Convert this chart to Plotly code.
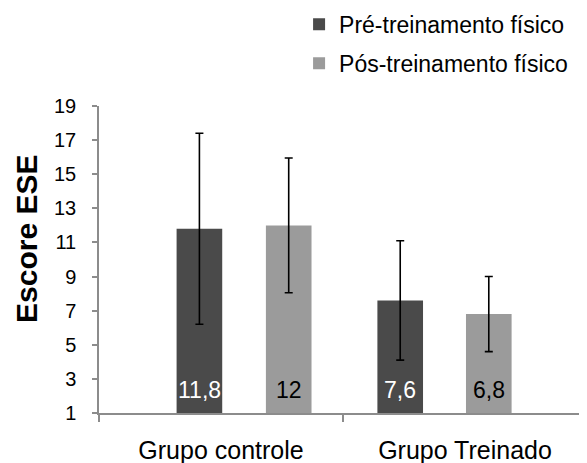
import plotly.graph_objects as go

categories = ["Grupo controle", "Grupo Treinado"]
series_names = ["Pré-treinamento físico", "Pós-treinamento físico"]
pre_values = [11.8, 7.6]
pos_values = [12.0, 6.8]
pre_errors = [5.6, 3.5]
pos_errors = [3.95, 2.2]
y_ticks = [1, 3, 5, 7, 9, 11, 13, 15, 17, 19]
y_min, y_max = 1, 19

FONT = "Liberation Sans, Arial, sans-serif"
DARK = "#4a4a4a"
LIGHT = "#9b9b9b"
BAR_W = 0.187

# the page body has an 8px default margin, so the figure is drawn 8px smaller
FIG_W, FIG_H = 579, 455
M_L, M_R, M_T, M_B = 91, 0, 98, 50
PX_PER_CAT = (FIG_W - M_L - M_R) / 2.0


def fmt(v):
    return f"{v:g}".replace(".", ",")


fig = go.Figure()


def add_series(values, errors, name, color, text_color, offsets, group):
    fig.add_trace(go.Bar(
        x=categories,
        y=[v - y_min for v in values],
        base=[y_min] * len(values),
        name=name,
        marker=dict(color=color, line=dict(width=0)),
        width=[BAR_W] * len(values), offset=offsets,
        error_y=dict(type="data", array=errors, color="black", thickness=1.6, width=4),
        legendgroup=group,
        hoverinfo="skip",
    ))
    for cat, v, off in zip(categories, values, offsets):
        fig.add_annotation(
            x=cat, y=y_min, xref="x", yref="y",
            xshift=(off + BAR_W / 2) * PX_PER_CAT, yshift=8,
            xanchor="center", yanchor="bottom", showarrow=False,
            text=fmt(v), font=dict(family=FONT, size=23, color=text_color),
        )


add_series(pre_values, pre_errors, series_names[0], DARK, "white", [-0.182, -0.359], "a")
add_series(pos_values, pos_errors, series_names[1], LIGHT, "black", [0.184, 0.004], "b")

fig.add_annotation(
    text="<b>Escore ESE</b>", textangle=-90,
    xref="paper", yref="paper", x=-0.1475, y=0.567,
    xanchor="center", yanchor="middle", showarrow=False,
    font=dict(family=FONT, size=30, color="black"),
)

fig.update_layout(
    width=FIG_W, height=FIG_H,
    margin=dict(l=M_L, r=M_R, t=M_T, b=M_B, autoexpand=False),
    paper_bgcolor="white", plot_bgcolor="white",
    barmode="overlay",
    font=dict(family=FONT, color="black"),
    showlegend=True,
    legend=dict(
        x=0.41, xanchor="left", y=1.336, yanchor="top",
        font=dict(family=FONT, size=23, color="black"),
        tracegroupgap=6, bgcolor="rgba(0,0,0,0)",
        itemclick=False,
    ),
    xaxis=dict(
        type="category", range=[-0.5, 1.5], automargin=False,
        showline=True, linecolor="#8c8c8c", linewidth=1.5,
        ticks="outside", tickson="boundaries", ticklen=7, tickcolor="#8c8c8c", tickwidth=1.5,
        tickfont=dict(family=FONT, size=25, color="black"),
        ticklabelstandoff=14,
        showgrid=False, zeroline=False,
    ),
    yaxis=dict(
        range=[y_min, y_max], tickvals=y_ticks, automargin=False,
        showline=True, linecolor="#8c8c8c", linewidth=1.5,
        ticks="outside", ticklen=5, tickcolor="#8c8c8c", tickwidth=1.5,
        tickfont=dict(family=FONT, size=20, color="black"),
        ticklabelstandoff=12,
        showgrid=False, zeroline=False,
    ),
)

fig.write_html("out.html")
